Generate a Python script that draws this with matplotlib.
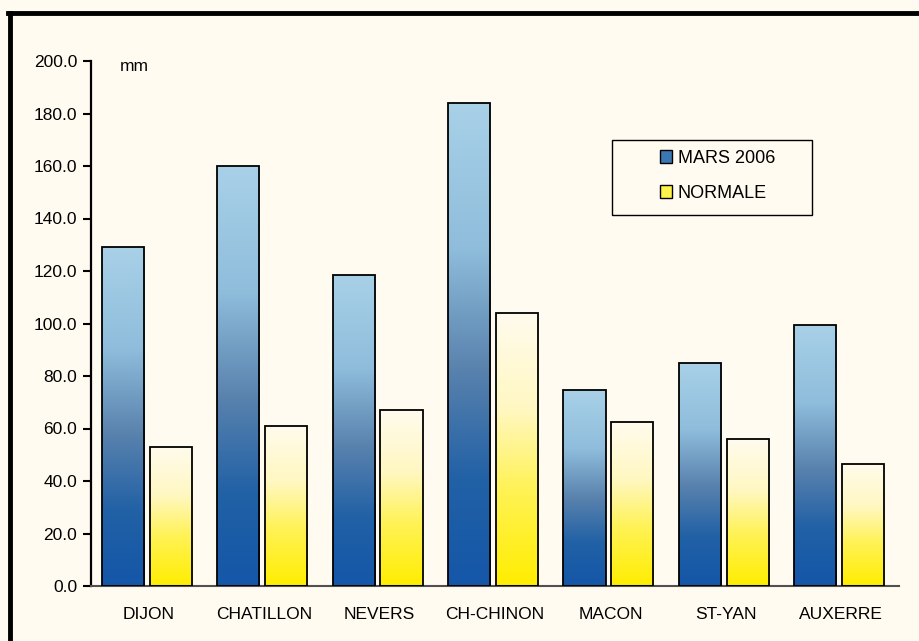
import matplotlib
matplotlib.use("Agg")
import matplotlib.pyplot as plt
import numpy as np
from matplotlib.colors import LinearSegmentedColormap
from matplotlib.patches import Rectangle
from matplotlib.lines import Line2D

categories = ["DIJON", "CHATILLON", "NEVERS", "CH-CHINON", "MACON", "ST-YAN", "AUXERRE"]
mars_2006 = [129.0, 160.0, 118.5, 184.0, 74.5, 85.0, 99.5]
normale = [53.0, 61.0, 67.0, 104.0, 62.5, 56.0, 46.5]
series_labels = ["MARS 2006", "NORMALE"]
yticks = [0, 20, 40, 60, 80, 100, 120, 140, 160, 180, 200]

plt.rcParams['font.family'] = ['Liberation Sans', 'DejaVu Sans']
bg = '#fffbf0'

fig = plt.figure(figsize=(9.19, 6.41), dpi=100, facecolor=bg)
ax = fig.add_axes([91/919, 55/641, 808/919, 525/641])
ax.set_facecolor(bg)

blue_cmap = LinearSegmentedColormap.from_list('b', [
    (0.0, (0.66, 0.82, 0.91)),
    (0.30, (0.56, 0.74, 0.86)),
    (0.55, (0.35, 0.51, 0.68)),
    (0.78, (0.13, 0.38, 0.65)),
    (1.0, (0.08, 0.34, 0.66))])
yellow_cmap = LinearSegmentedColormap.from_list('y', [
    (0.0, (1.0, 0.985, 0.93)),
    (0.35, (1.0, 0.97, 0.76)),
    (0.65, (1.0, 0.95, 0.33)),
    (1.0, (1.0, 0.93, 0.0))])

x = np.arange(len(categories))
w = 0.365
b1 = ax.bar(x - 0.225, mars_2006, width=w, facecolor='none', edgecolor='black', linewidth=1.3, zorder=3)
b2 = ax.bar(x + 0.19, normale, width=w, facecolor='none', edgecolor='black', linewidth=1.3, zorder=3)

grad = np.linspace(0, 1, 256).reshape(-1, 1)
for bars, cmap in ((b1, blue_cmap), (b2, yellow_cmap)):
    for p in bars:
        x0, y0 = p.get_x(), p.get_y()
        ww, hh = p.get_width(), p.get_height()
        im = ax.imshow(grad, cmap=cmap, aspect='auto', origin='upper',
                       extent=[x0, x0 + ww, y0, y0 + hh], zorder=2, interpolation='bilinear')
        im.set_clip_path(p)

ax.set_xlim(-0.5, len(categories) - 0.5)
ax.set_ylim(0, 200)
ax.set_yticks(yticks)
ax.set_yticklabels([f"{v:.1f}" for v in yticks], fontsize=12.5)
ax.set_xticks(x)
ax.set_xticklabels(categories, fontsize=12.5)
ax.tick_params(axis='x', length=0, pad=15)
ax.tick_params(axis='y', length=6, width=1.5, pad=4, direction='out')
for s in ('top', 'right'):
    ax.spines[s].set_visible(False)
ax.spines['left'].set_linewidth(1.6)
ax.spines['left'].set_color('black')
ax.spines['bottom'].set_linewidth(1.5)
ax.spines['bottom'].set_color('#505050')

ax.text(0.036, 0.99, "mm", transform=ax.transAxes, fontsize=12.5, va='center', ha='left')

# legend
handles = [Rectangle((0, 0), 1, 1, facecolor='#3a78b4', edgecolor='black', linewidth=1.0),
           Rectangle((0, 0), 1, 1, facecolor='#fff24a', edgecolor='black', linewidth=1.0)]
leg = ax.legend(handles, series_labels, loc='upper left', bbox_to_anchor=(0.695, 0.845),
                frameon=False, fontsize=13, handlelength=0.7, handleheight=0.7,
                handletextpad=0.3, labelspacing=1.0, borderaxespad=0)
ax.add_patch(Rectangle(((612-91)/808, (586-215)/525), 200/808, 75/525, transform=ax.transAxes,
                       facecolor='none', edgecolor='black', linewidth=1.0, zorder=4))

# outer border
fig.add_artist(Line2D([10/919, 10/919], [0, 1 - 13/641], transform=fig.transFigure, color='black', linewidth=3.5))
fig.add_artist(Line2D([8/919, 1], [1 - 13/641, 1 - 13/641], transform=fig.transFigure, color='black', linewidth=3.5))

fig.savefig("out.png", dpi=100, facecolor=bg)
